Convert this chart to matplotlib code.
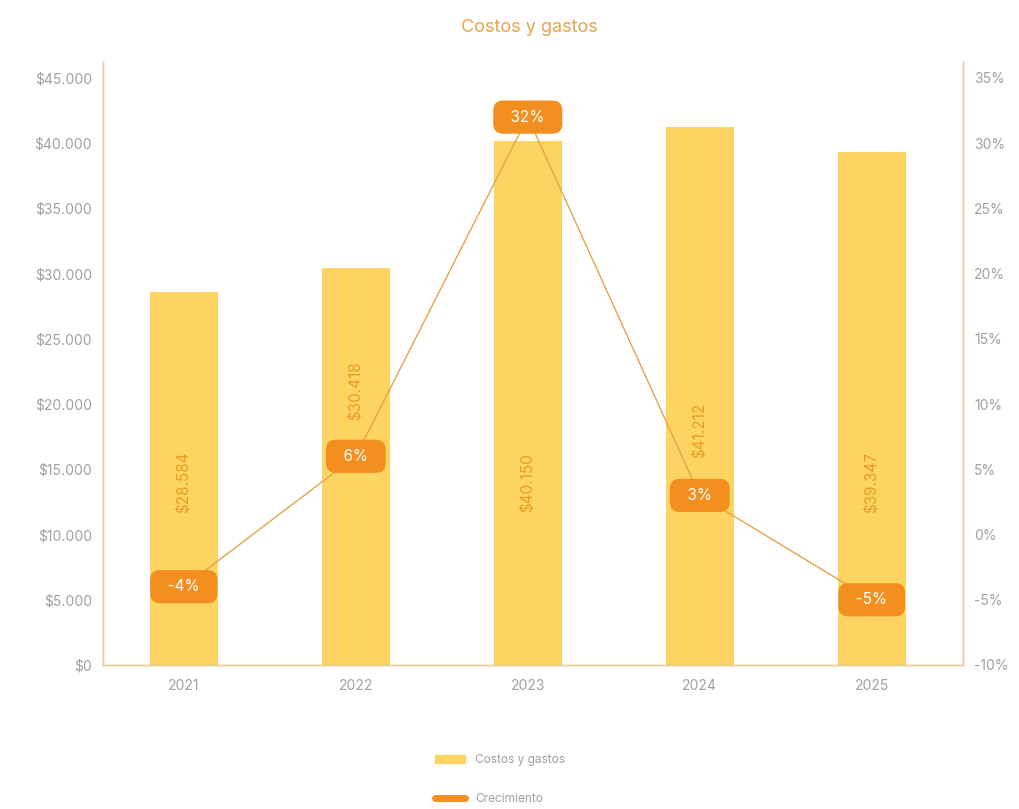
import matplotlib.pyplot as plt
import matplotlib.ticker as ticker
from matplotlib.patches import Patch
from matplotlib.lines import Line2D

plt.rcParams['font.family'] = ['Inter', 'DejaVu Sans']

years = ['2021', '2022', '2023', '2024', '2025']
costos = [28584, 30418, 40150, 41212, 39347]
crecimiento = [-4, 6, 32, 3, -5]

BAR = '#FDD462'
ORANGE = '#F28F1F'
LINE = '#E9A24A'
SPINE = '#EBCB95'
GREY = '#A0A0A0'


def miles(v, pos=None):
    return '$' + f'{int(round(v)):,}'.replace(',', '.')


fig = plt.figure(figsize=(10.2, 8.09), dpi=100)
ax = fig.add_axes([0.101, 0.178, 0.843, 0.745])
ax2 = ax.twinx()

ax.set_xlim(-0.47, 4.53)
ax.set_ylim(0, 46200)
ax2.set_ylim(-10, 36.2)

x = range(len(years))
ax.bar(x, costos, width=0.395, color=BAR, zorder=2)

# value labels written vertically inside each bar, lifted above the
# growth badge when the two would collide
for i, v in enumerate(costos):
    badge = ax.transData.inverted().transform(
        ax2.transData.transform((i, crecimiento[i])))[1]
    y = 14000
    if abs(badge - y) < 5200:
        y = badge + 5000
    ax.text(i, y, miles(v), rotation=90, ha='center', va='center',
            color='#E99C22', fontsize=11, zorder=3)

ax.yaxis.set_major_locator(ticker.MultipleLocator(5000))
ax.yaxis.set_major_formatter(ticker.FuncFormatter(miles))
ax.set_xticks(list(x))
ax.set_xticklabels(years)

ax2.yaxis.set_major_locator(ticker.MultipleLocator(5))
ax2.yaxis.set_major_formatter(ticker.FuncFormatter(lambda v, p: f'{v:.0f}%'))

ax2.plot(list(x), crecimiento, color=LINE, linewidth=1, zorder=4)
for i, v in enumerate(crecimiento):
    ax2.text(i, v, f'  {v}%  ', ha='center', va='center', color='white',
             fontsize=11, zorder=5,
             bbox=dict(boxstyle='round,pad=0.55,rounding_size=0.6',
                       facecolor=ORANGE, edgecolor=ORANGE))

for a in (ax, ax2):
    a.spines['top'].set_visible(False)
    for side in ('left', 'right', 'bottom'):
        a.spines[side].set_color(SPINE)
        a.spines[side].set_linewidth(1)
    a.tick_params(length=0, labelsize=10, labelcolor=GREY, pad=8)
ax.tick_params(axis='x', pad=10)

fig.suptitle('Costos y gastos', x=0.519, y=0.976, fontsize=13,
             color='#E9A449')

handles = [Patch(facecolor=BAR, edgecolor=BAR, label='Costos y gastos'),
           Line2D([0], [0], color=ORANGE, linewidth=5,
                  solid_capstyle='round', label='Crecimiento')]
fig.legend(handles=handles, loc='center', bbox_to_anchor=(0.49, 0.036),
           ncol=1, frameon=False, fontsize=8.5, labelcolor=GREY,
           handlelength=2.6, labelspacing=2.3, handleheight=0.7)

fig.savefig('out.png', dpi=100)
